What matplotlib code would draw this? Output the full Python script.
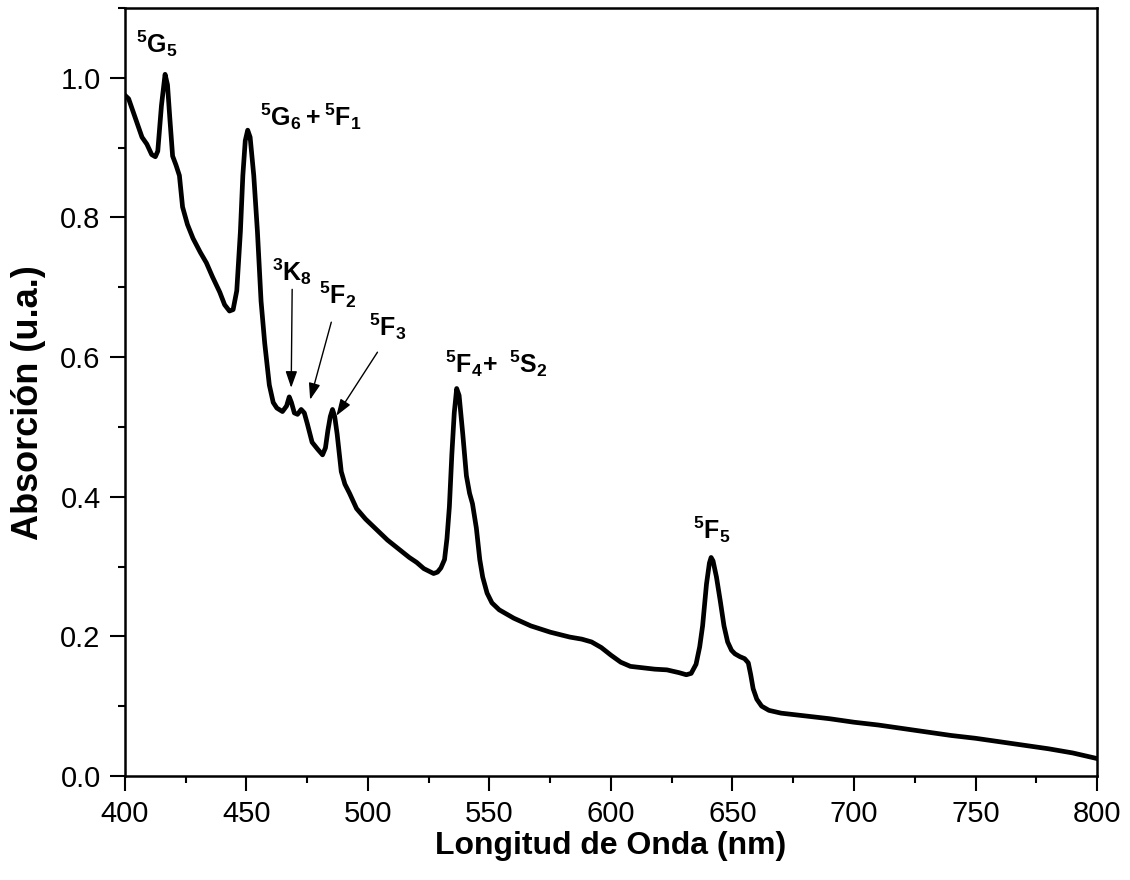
import matplotlib
matplotlib.use("Agg")
import matplotlib.pyplot as plt
from matplotlib.ticker import MultipleLocator

plt.rcParams['font.family'] = ['Liberation Sans', 'DejaVu Sans']
plt.rcParams['mathtext.fontset'] = 'custom'
plt.rcParams['mathtext.rm'] = 'Liberation Sans:bold'
plt.rcParams['mathtext.bf'] = 'Liberation Sans:bold'
plt.rcParams['mathtext.it'] = 'Liberation Sans:bold'
plt.rcParams['mathtext.default'] = 'bf'

wavelength = [400, 401.5, 403, 405, 407, 409, 411, 412.5, 413.5, 415, 416.5, 417.5, 418.5,
              419.6, 421, 422.4, 423.7, 425.7, 428, 431, 433.5, 436, 439, 441, 443, 444.5,
              446, 447.5, 448.5, 449.5, 450.5, 451.5, 453, 454.5, 456, 457.5, 459.4, 461,
              462.5, 464.8, 466.5, 467.6, 468.5, 469.7, 471, 472.5, 473.8, 475, 477, 479.3,
              481.3, 482.5, 483.5, 484.5, 485.4, 486.3, 487.3, 489, 490.5, 492.4, 495.3, 499,
              503.5, 508, 513, 517, 520, 523, 525.3, 527, 528.6, 530, 531.5, 532.5, 533.5,
              534.5, 535.5, 536.5, 537.5, 539, 540.5, 541.8, 543, 544.6, 546, 547.2, 549,
              551, 554, 560, 567, 575, 583, 588, 592, 596, 600, 604, 608, 613, 618, 623,
              628, 631, 633, 635, 636.5, 637.7, 639.3, 640.5, 641.2, 642, 643.4, 645, 646.5,
              648, 649.6, 651, 653, 655, 656.5, 657.5, 658.5, 660, 662, 665, 670, 680, 690,
              700, 710, 720, 730, 740, 750, 760, 770, 780, 790, 800]
absorption = [0.975, 0.97, 0.955, 0.935, 0.915, 0.905, 0.89, 0.887, 0.895, 0.96, 1.005, 0.99, 0.94,
              0.888, 0.875, 0.86, 0.815, 0.79, 0.77, 0.75, 0.735, 0.715, 0.693, 0.675, 0.666, 0.668,
              0.695, 0.78, 0.86, 0.91, 0.925, 0.915, 0.86, 0.78, 0.68, 0.62, 0.56, 0.535,
              0.527, 0.522, 0.53, 0.543, 0.535, 0.52, 0.518, 0.525, 0.52, 0.505, 0.478, 0.468,
              0.46, 0.47, 0.495, 0.515, 0.525, 0.515, 0.49, 0.436, 0.418, 0.405, 0.383, 0.368,
              0.353, 0.338, 0.324, 0.313, 0.306, 0.297, 0.293, 0.29, 0.292, 0.298, 0.31, 0.34, 0.386,
              0.46, 0.52, 0.555, 0.545, 0.49, 0.43, 0.405, 0.39, 0.355, 0.31, 0.285, 0.262,
              0.248, 0.238, 0.226, 0.215, 0.206, 0.199, 0.196, 0.192, 0.184, 0.173, 0.163, 0.157, 0.155, 0.153, 0.152,
              0.148, 0.145, 0.147, 0.16, 0.185, 0.215, 0.275, 0.305, 0.313, 0.308, 0.285, 0.25, 0.215,
              0.192, 0.18, 0.175, 0.171, 0.168, 0.162, 0.145, 0.125, 0.11, 0.1, 0.094, 0.09, 0.086, 0.082,
              0.077, 0.073, 0.068, 0.063, 0.058, 0.054, 0.049, 0.044, 0.039, 0.033, 0.025]

labels = [r'$^{5}G_{5}$', r'$^{5}G_{6} + {}^{5}F_{1}$', r'$^{3}K_{8}$', r'$^{5}F_{2}$',
          r'$^{5}F_{3}$', r'$^{5}F_{4}\!+\ ^{5}S_{2}$', r'$^{5}F_{5}$']
label_x = [413, 476.7, 468.9, 487.4, 508, 552.9, 641.3]
label_y = [1.049, 0.944, 0.723, 0.69, 0.644, 0.59, 0.353]

arrow_from = [(468.8, 0.697), (484.9, 0.650), (503.9, 0.607)]
arrow_to = [(468.4, 0.556), (476.2, 0.539), (487.0, 0.516)]

fig = plt.figure(figsize=(11.3, 8.8), dpi=100)
ax = fig.add_axes([0.1106, 0.1182, 0.8602, 0.8727])

ax.plot(wavelength, absorption, color='black', lw=3.4, solid_joinstyle='round')

ax.set_xlim(400, 800)
ax.set_ylim(0, 1.1)
ax.xaxis.set_major_locator(MultipleLocator(50))
ax.xaxis.set_minor_locator(MultipleLocator(25))
ax.yaxis.set_major_locator(MultipleLocator(0.2))
ax.yaxis.set_minor_locator(MultipleLocator(0.1))
ax.yaxis.set_major_formatter(matplotlib.ticker.FormatStrFormatter('%.1f'))

ax.tick_params(which='major', direction='out', length=10.5, width=1.5, labelsize=21,
               top=False, right=False, pad=7)
ax.tick_params(which='minor', direction='out', length=5, width=1.5, top=False, right=False)
for s in ax.spines.values():
    s.set_linewidth(1.8)

ax.set_xlabel('Longitud de Onda (nm)', fontsize=23, fontweight='bold', labelpad=2)
ax.set_ylabel('Absorción (u.a.)', fontsize=26, fontweight='bold')
ax.yaxis.set_label_coords(-0.081, 0.486)

for lab, lx, ly in zip(labels, label_x, label_y):
    ax.text(lx, ly, lab, fontsize=18, ha='center', va='center')

for (x0, y0), (x1, y1) in zip(arrow_from, arrow_to):
    ax.annotate('', xy=(x1, y1), xytext=(x0, y0),
                arrowprops=dict(arrowstyle='-|>,head_length=1.0,head_width=0.35',
                                color='black', lw=1.0, shrinkA=0, shrinkB=0))

fig.savefig('out.png', dpi=100)
